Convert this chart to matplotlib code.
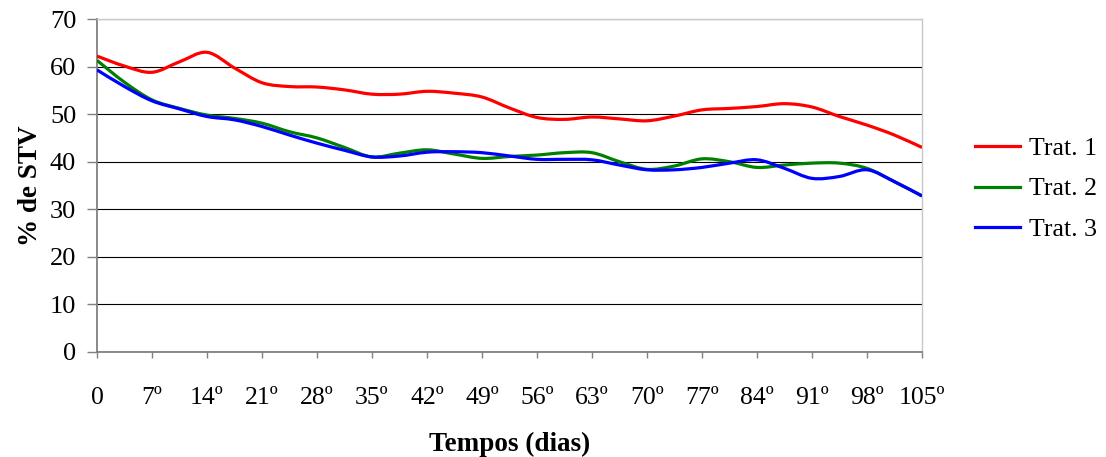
import matplotlib.pyplot as plt
from matplotlib.path import Path
from matplotlib.patches import PathPatch
from matplotlib.lines import Line2D

plt.rcParams['font.family'] = ['Liberation Serif', 'DejaVu Serif']

# sampling days (twice a week) and % STV for each treatment
dias = [0, 3.5, 7, 10.5, 14, 17.5, 21, 24.5, 28, 31.5, 35, 38.5, 42, 45.5, 49, 52.5,
        56, 59.5, 63, 66.5, 70, 73.5, 77, 80.5, 84, 87.5, 91, 94.5, 98, 101.5, 105]
trat1 = [62.2, 60.1, 58.8, 61.0, 63.0, 59.7, 56.6, 55.8, 55.7, 55.1, 54.2, 54.2, 54.8, 54.4,
         53.6, 51.3, 49.3, 48.9, 49.4, 49.0, 48.6, 49.6, 50.9, 51.2, 51.6, 52.2, 51.5, 49.5,
         47.7, 45.6, 43.0]
trat2 = [61.3, 56.7, 53.0, 51.2, 49.8, 49.1, 48.1, 46.3, 45.0, 43.0, 41.0, 41.8, 42.5, 41.6,
         40.7, 41.1, 41.4, 41.9, 41.9, 40.0, 38.4, 39.1, 40.6, 40.0, 38.8, 39.3, 39.7, 39.7,
         38.6, 35.8, 32.8]
trat3 = [59.3, 55.8, 52.8, 51.1, 49.5, 48.8, 47.4, 45.6, 43.9, 42.4, 41.0, 41.2, 42.0, 42.1,
         41.9, 41.2, 40.5, 40.5, 40.4, 39.3, 38.3, 38.3, 38.8, 39.7, 40.4, 38.6, 36.5, 36.9,
         38.3, 35.8, 32.8]

xticks = [0, 7, 14, 21, 28, 35, 42, 49, 56, 63, 70, 77, 84, 91, 98, 105]
xtick_labels = ['0'] + [f'{d}º' for d in xticks[1:]]


def smooth_path(x, y, k=1 / 6):
    # Catmull-Rom style cubic Bezier through every point (spreadsheet "smoothed line")
    verts = [(x[0], y[0])]
    codes = [Path.MOVETO]
    n = len(x)
    for i in range(n - 1):
        x0, y0 = (x[i - 1], y[i - 1]) if i > 0 else (x[i], y[i])
        x3, y3 = (x[i + 2], y[i + 2]) if i + 2 < n else (x[i + 1], y[i + 1])
        c1 = (x[i] + (x[i + 1] - x0) * k, y[i] + (y[i + 1] - y0) * k)
        c2 = (x[i + 1] - (x3 - x[i]) * k, y[i + 1] - (y3 - y[i]) * k)
        verts += [c1, c2, (x[i + 1], y[i + 1])]
        codes += [Path.CURVE4] * 3
    return Path(verts, codes)


fig = plt.figure(figsize=(11.06, 4.57), dpi=100)
ax = fig.add_axes([97 / 1106, 1 - 352 / 457, (922 - 97) / 1106, (352 - 19) / 457])

series = [(trat1, '#FF0000', 'Trat. 1'), (trat2, '#008000', 'Trat. 2'),
          (trat3, '#0000FF', 'Trat. 3')]
handles = []
for vals, color, label in series:
    ax.add_patch(PathPatch(smooth_path(dias, vals), facecolor='none', edgecolor=color,
                           lw=2.3, joinstyle='round', zorder=3))
    handles.append(Line2D([], [], color=color, lw=2.3, label=label))

ax.set_xlim(0, 105)
ax.set_ylim(0, 70)
ax.set_yticks(range(0, 71, 10))
ax.set_xticks(xticks)
ax.set_xticklabels(xtick_labels)

ax.yaxis.grid(True, color='black', lw=0.8)
ax.set_axisbelow(True)

for side in ['left', 'bottom']:
    ax.spines[side].set_color('#808080')
    ax.spines[side].set_linewidth(1.3)
for side in ['top', 'right']:
    ax.spines[side].set_color('#C8C8C8')
    ax.spines[side].set_linewidth(1.0)

ax.tick_params(axis='y', direction='out', length=7, width=1, color='#808080',
               pad=8, labelsize=19)
ax.tick_params(axis='x', direction='out', length=4.5, width=1, color='#808080',
               pad=21, labelsize=18.5)

ax.set_ylabel('% de STV', fontsize=19.5, fontweight='bold', labelpad=5)
ax.set_xlabel('Tempos (dias)', fontsize=19.5, fontweight='bold', labelpad=16)

fig.legend(handles=handles, loc='center left', bbox_to_anchor=(975 / 1106, 1 - 189 / 457),
           frameon=False, fontsize=18.5, handlelength=1.75, handletextpad=0.35,
           labelspacing=0.67, borderpad=0, borderaxespad=0)

fig.savefig('out.png', dpi=100)
